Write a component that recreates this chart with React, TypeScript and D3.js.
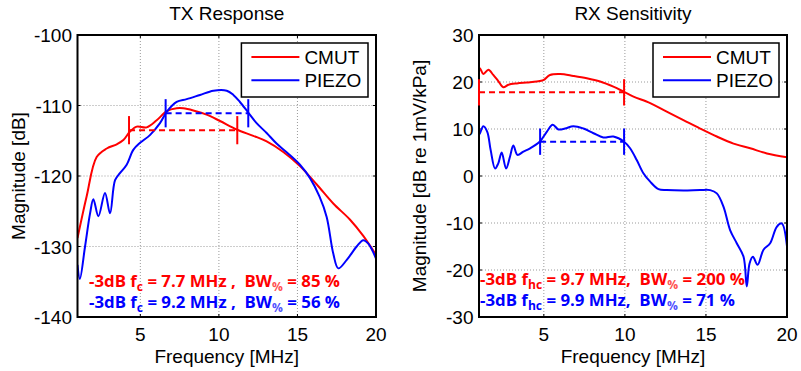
import React from 'react';
import * as d3 from 'd3';

// frequency axis (MHz) shared by both panels
const freqDomain = [1, 20];
const freqTicks = [5, 10, 15, 20];
const seriesNames = ['CMUT', 'PIEZO'];
const seriesColors = ['#ff0000', '#0000ff'];

// TX response [MHz, dB]
const txTicks = [-140, -130, -120, -110, -100];
const txCmut: [number, number][] = [
  [1, -128.8], [1.58, -122.9], [2.22, -117.3], [2.86, -116.1], [3.5, -115.5], [3.92, -114.9],
  [4.34, -113.7], [4.77, -113.0], [5.4, -113.1], [6.04, -112.1], [6.68, -110.8], [7.31, -110.4],
  [7.73, -110.4], [8.37, -110.7], [9.22, -111.3], [10.07, -112.2], [11.13, -113.4], [12.19, -114.3],
  [13.04, -115.1], [14.1, -116.6], [15.16, -118.6], [16.23, -121.2], [17.28, -123.9], [18.35, -126.2],
  [19.19, -128.5], [20, -131.2],
];
const txPiezo: [number, number][] = [
  [1, -132.6], [1.15, -134.6], [1.48, -130.0], [1.8, -125.3], [2.01, -123.3], [2.33, -125.7],
  [2.75, -122.4], [3.07, -125.3], [3.39, -120.6], [3.7, -119.6], [4.13, -118.4], [4.55, -116.3],
  [4.98, -115.3], [5.61, -114.2], [6.25, -112.5], [6.68, -110.9], [7.31, -109.5], [7.95, -109.1],
  [8.8, -108.5], [9.65, -107.9], [10.5, -107.9], [10.92, -108.5], [11.34, -109.5], [11.87, -111.0],
  [12.4, -112.5], [13.04, -113.9], [13.67, -115.4], [14.35, -116.7], [15.16, -118.4], [15.8, -120.3],
  [16.4, -122.9], [16.86, -125.8], [17.28, -131.0], [17.6, -133.1], [18.14, -131.9], [18.77, -130.0],
  [19.19, -129.1], [19.51, -129.6], [20, -131.7],
];
// -3 dB band: [f low, f high, level]
const txBands = [[4.28, 11.17, -113.5], [6.61, 11.87, -111.1]];
const txNotes = [
  ['-3dB f', 'c', ' = 7.7 MHz ,  BW', '%', ' = 85 %'],
  ['-3dB f', 'c', ' = 9.2 MHz ,  BW', '%', ' = 56 %'],
];

// RX sensitivity [MHz, dB re 1mV/kPa]
const rxTicks = [-30, -20, -10, 0, 10, 20, 30];
const rxCmut: [number, number][] = [
  [1, 22.9], [1.06, 22.9], [1.27, 21.7], [1.58, 22.6], [1.88, 21.5], [2.19, 20.2], [2.5, 18.9],
  [2.81, 19.4], [3.33, 19.7], [3.94, 19.9], [4.56, 20.1], [4.97, 20.4], [5.38, 21.5], [6.0, 21.7],
  [6.82, 21.3], [7.65, 20.8], [8.47, 20.1], [9.29, 19.0], [9.95, 17.9], [10.53, 16.9], [11.56, 15.5],
  [12.58, 13.7], [13.61, 11.9], [14.64, 10.1], [15.67, 8.4], [16.7, 6.9], [17.73, 5.9], [18.76, 4.8],
  [20, 4.0],
];
const rxPiezo: [number, number][] = [
  [1, 8.8], [1.06, 9.1], [1.27, 10.6], [1.51, 9.4], [1.72, 5.5], [1.99, 1.6], [2.19, 2.7], [2.4, 5.0],
  [2.67, 1.6], [2.91, 4.1], [3.12, 6.5], [3.37, 4.5], [3.74, 5.2], [4.15, 5.9], [4.77, 7.4], [5.18, 9.4],
  [5.55, 10.9], [5.9, 9.9], [6.31, 10.1], [6.82, 10.6], [7.44, 10.1], [8.06, 9.1], [8.67, 8.2],
  [9.29, 8.4], [9.95, 7.3], [10.32, 5.9], [10.73, 3.4], [11.14, 0.6], [11.56, -1.2], [12.07, -2.8],
  [12.58, -3.0], [13.61, -3.1], [14.64, -3.0], [15.26, -3.0], [15.67, -3.7], [16.08, -6.5],
  [16.49, -11.5], [16.9, -14.3], [17.32, -17.2], [17.52, -23.5], [17.69, -18.6], [17.9, -17.2],
  [18.18, -18.9], [18.55, -15.7], [18.96, -14.3], [19.37, -10.8], [19.68, -10.1], [20, -15.0],
];
const rxBands = [[1, 9.95, 17.8], [4.77, 9.95, 7.3]];
const rxNotes = [
  ['-3dB f', 'hc', ' = 9.7 MHz,  BW', '%', ' = 200 %'],
  ['-3dB f', 'hc', ' = 9.9 MHz,  BW', '%', ' = 71 %'],
];

const FONT = 'Liberation Sans, Arial, sans-serif';

type PanelProps = {
  title: string;
  ylabel: string;
  x0: number;
  x1: number;
  yDomain: number[];
  yTicks: number[];
  series: [number, number][][];
  bands: number[][];
  notes: string[][];
  tickHalf: number;
  legendW: number;
  noteX: number;
  noteY: number[];
  noteW: number[];
};

function Panel(p: PanelProps) {
  const top = 35;
  const bottom = 317;
  const x = d3.scaleLinear().domain(freqDomain).range([p.x0, p.x1]);
  const y = d3.scaleLinear().domain(p.yDomain).range([bottom, top]);
  const line = d3
    .line<[number, number]>()
    .x((d) => x(d[0]))
    .y((d) => y(d[1]))
    .curve(d3.curveCatmullRom.alpha(0.5));

  const lx = p.x1 - 8 - p.legendW;
  const ly = top + 8;

  return (
    <g fontFamily={FONT}>
      <defs>
        <clipPath id={'clip' + p.x0}>
          <rect x={p.x0} y={top} width={p.x1 - p.x0} height={bottom - top} />
        </clipPath>
      </defs>
      {/* grid */}
      {freqTicks.slice(0, -1).map((t) => (
        <line key={'gx' + t} x1={x(t)} x2={x(t)} y1={top} y2={bottom} stroke="#9a9a9a" strokeWidth={1} strokeDasharray="1,2" />
      ))}
      {p.yTicks.slice(1, -1).map((t) => (
        <line key={'gy' + t} x1={p.x0} x2={p.x1} y1={y(t)} y2={y(t)} stroke="#9a9a9a" strokeWidth={1} strokeDasharray="1,2" />
      ))}
      {/* ticks inside */}
      {freqTicks.map((t) => (
        <g key={'tx' + t}>
          <line x1={x(t)} x2={x(t)} y1={bottom} y2={bottom - 3} stroke="#000" />
          <line x1={x(t)} x2={x(t)} y1={top} y2={top + 3} stroke="#000" />
        </g>
      ))}
      {p.yTicks.map((t) => (
        <g key={'ty' + t}>
          <line x1={p.x0} x2={p.x0 + 3} y1={y(t)} y2={y(t)} stroke="#000" />
          <line x1={p.x1} x2={p.x1 - 3} y1={y(t)} y2={y(t)} stroke="#000" />
        </g>
      ))}
      {/* data */}
      <g clipPath={`url(#clip${p.x0})`}>
        {p.series.map((s, i) => (
          <path key={'s' + i} d={line(s) || ''} fill="none" stroke={seriesColors[i]} strokeWidth={2} />
        ))}
      </g>
      {/* axes box */}
      <rect x={p.x0} y={top} width={p.x1 - p.x0} height={bottom - top} fill="none" stroke="#000" strokeWidth={2} />
      {/* -3 dB bands */}
      {p.bands.map((b, i) => (
        <g key={'b' + i} stroke={seriesColors[i]} strokeWidth={2}>
          <line x1={x(b[0])} x2={x(b[1])} y1={y(b[2])} y2={y(b[2])} strokeDasharray="6,4" />
          <line x1={x(b[0])} x2={x(b[0])} y1={y(b[2] + p.tickHalf)} y2={y(b[2] - p.tickHalf)} />
          <line x1={x(b[1])} x2={x(b[1])} y1={y(b[2] + p.tickHalf)} y2={y(b[2] - p.tickHalf)} />
        </g>
      ))}
      {/* legend */}
      <rect x={lx} y={ly} width={p.legendW} height={54} fill="#fff" stroke="#000" strokeWidth={1.5} />
      {seriesNames.map((n, i) => (
        <g key={n}>
          <line x1={lx + 10} x2={lx + 58} y1={ly + 14 + i * 23.3} y2={ly + 14 + i * 23.3} stroke={seriesColors[i]} strokeWidth={2} />
          <text x={lx + 63} y={ly + 14 + i * 23.3 + 7} fontSize={19}>
            {n}
          </text>
        </g>
      ))}
      {/* annotations */}
      {p.notes.map((n, i) => (
        <text
          key={'n' + i}
          x={p.noteX}
          y={p.noteY[i]}
          fill={seriesColors[i]}
          fontWeight="bold"
          fontSize={16}
          fontFamily="Open Sans, sans-serif"
          textLength={p.noteW[i]}
          lengthAdjust="spacingAndGlyphs"
          style={{ whiteSpace: 'pre' }}
        >
          {n[0]}
          <tspan fontSize={11.5} dy={4}>{n[1]}</tspan>
          <tspan dy={-4}>{n[2]}</tspan>
          <tspan fontSize={11.5} dy={4} fill={i === 0 ? '#ff5050' : '#5050ff'}>{n[3]}</tspan>
          <tspan dy={-4}>{n[4]}</tspan>
        </text>
      ))}
      {/* tick labels */}
      {freqTicks.map((t) => (
        <text key={'lx' + t} x={x(t)} y={340.5} textAnchor="middle" fontSize={19}>
          {t}
        </text>
      ))}
      {p.yTicks.map((t) => (
        <text key={'ly' + t} x={p.x0 - 5.5} y={y(t) + 7} textAnchor="end" fontSize={19}>
          {t}
        </text>
      ))}
      <text x={(p.x0 + p.x1) / 2} y={20} textAnchor="middle" fontSize={19}>
        {p.title}
      </text>
      <text x={(p.x0 + p.x1) / 2} y={362.5} textAnchor="middle" fontSize={19}>
        Frequency [MHz]
      </text>
      <text transform={`translate(${p.x0 - 53},${(top + bottom) / 2}) rotate(-90)`} textAnchor="middle" fontSize={19}>
        {p.ylabel}
      </text>
    </g>
  );
}

export default function App() {
  return (
    <svg width={801} height={371} style={{ position: 'absolute', left: 0, top: 0, background: '#fff' }}>
      <Panel
        title="TX Response"
        ylabel="Magnitude [dB]"
        x0={77.5}
        x1={376}
        yDomain={[-140, -100]}
        yTicks={txTicks}
        series={[txCmut, txPiezo]}
        bands={txBands}
        notes={txNotes}
        tickHalf={2}
        legendW={126.6}
        noteX={89}
        noteY={[287, 308]}
        noteW={[251, 251]}
      />
      <Panel
        title="RX Sensitivity"
        ylabel="Magnitude [dB re 1mV/kPa]"
        x0={479}
        x1={787}
        yDomain={[-30, 30]}
        yTicks={rxTicks}
        series={[rxCmut, rxPiezo]}
        bands={rxBands}
        notes={rxNotes}
        tickHalf={2.8}
        legendW={126}
        noteX={480}
        noteY={[285, 306]}
        noteW={[265, 255]}
      />
    </svg>
  );
}
